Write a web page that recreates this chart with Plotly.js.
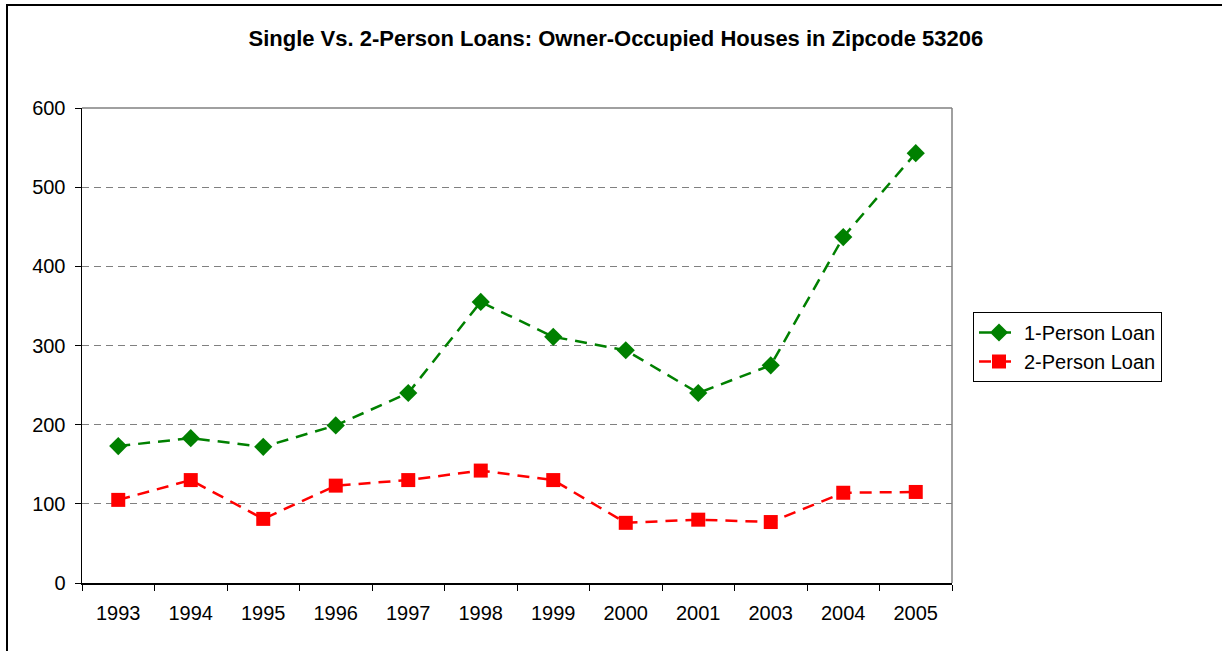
<!DOCTYPE html>
<html>
<head>
<meta charset="utf-8">
<script src="https://cdn.plot.ly/plotly-3.0.1.min.js"></script>
<style>
html,body{margin:0;padding:0;background:#fff;overflow:hidden;}
#chart{position:absolute;left:0;top:0;width:1222px;height:651px;}
#frame{position:absolute;left:6px;top:4px;width:1400px;height:800px;border-left:2px solid #000;border-top:2px solid #000;pointer-events:none;z-index:10;}
</style>
</head>
<body>
<div id="chart"></div>
<div id="frame"></div>
<script>
const years = ["1993","1994","1995","1996","1997","1998","1999","2000","2001","2003","2004","2005"];
const onePerson = [173, 183, 172, 199, 240, 355, 311, 294, 240, 275, 437, 543];
const twoPerson = [105, 130, 81, 123, 130, 142, 130, 76, 80, 77, 114, 115];

const fontFam = '"Liberation Sans", Arial, sans-serif';

const traces = [
  {
    x: years, y: onePerson, type: 'scatter', mode: 'lines+markers',
    name: '1-Person Loan',
    line: {color: '#008000', width: 2.5, dash: '12px,8px'},
    marker: {symbol: 'diamond', size: 14, color: '#008000'}
  },
  {
    x: years, y: twoPerson, type: 'scatter', mode: 'lines+markers',
    name: '2-Person Loan',
    line: {color: '#ff0000', width: 2.5, dash: '12px,8px'},
    marker: {symbol: 'square', size: 14, color: '#ff0000'}
  }
];

const layout = {
  width: 1222, height: 651,
  paper_bgcolor: 'rgba(0,0,0,0)',
  plot_bgcolor: '#fff',
  margin: {l: 82, r: 270, t: 108, b: 68},
  font: {family: fontFam, color: '#000', size: 20},
  title: {
    text: '<b>Single Vs. 2-Person Loans: Owner-Occupied Houses in Zipcode 53206</b>',
    font: {family: fontFam, size: 22, color: '#000'},
    x: 0.504, xref: 'container', xanchor: 'center',
    y: 1 - 38/651, yref: 'container', yanchor: 'middle'
  },
  xaxis: {
    type: 'category',
    range: [-0.5, 11.5],
    showline: true, linecolor: '#000', linewidth: 1.5,
    ticks: 'outside', tickson: 'boundaries', ticklen: 6, tickcolor: '#000', tickwidth: 1,
    showgrid: false, zeroline: false,
    tickfont: {size: 20, family: fontFam},
    ticklabelstandoff: 11,
    fixedrange: true
  },
  yaxis: {
    range: [0, 600], dtick: 100,
    showline: true, linecolor: '#000', linewidth: 1.5,
    ticks: 'outside', ticklen: 6, tickcolor: '#000', tickwidth: 1,
    showgrid: true, gridcolor: '#808080', gridwidth: 1, griddash: '7px,5px',
    zeroline: false,
    tickfont: {size: 20, family: fontFam},
    ticklabelstandoff: 5,
    fixedrange: true
  },
  legend: {
    x: (973-82)/870, xanchor: 'left',
    y: (583-312)/475, yanchor: 'top',
    bordercolor: '#000', borderwidth: 1,
    bgcolor: '#fff',
    itemwidth: 40,
    font: {size: 20, family: fontFam}
  },
  showlegend: true,
  shapes: [
    {type: 'line', xref: 'paper', yref: 'paper', x0: 0, x1: 1, y0: 1, y1: 1, line: {color: '#808080', width: 1.5}},
    {type: 'line', xref: 'paper', yref: 'paper', x0: 1, x1: 1, y0: 0, y1: 1, line: {color: '#808080', width: 1.5}}
  ]
};

Plotly.newPlot('chart', traces, layout, {displayModeBar: false, staticPlot: true});
</script>
</body>
</html>
